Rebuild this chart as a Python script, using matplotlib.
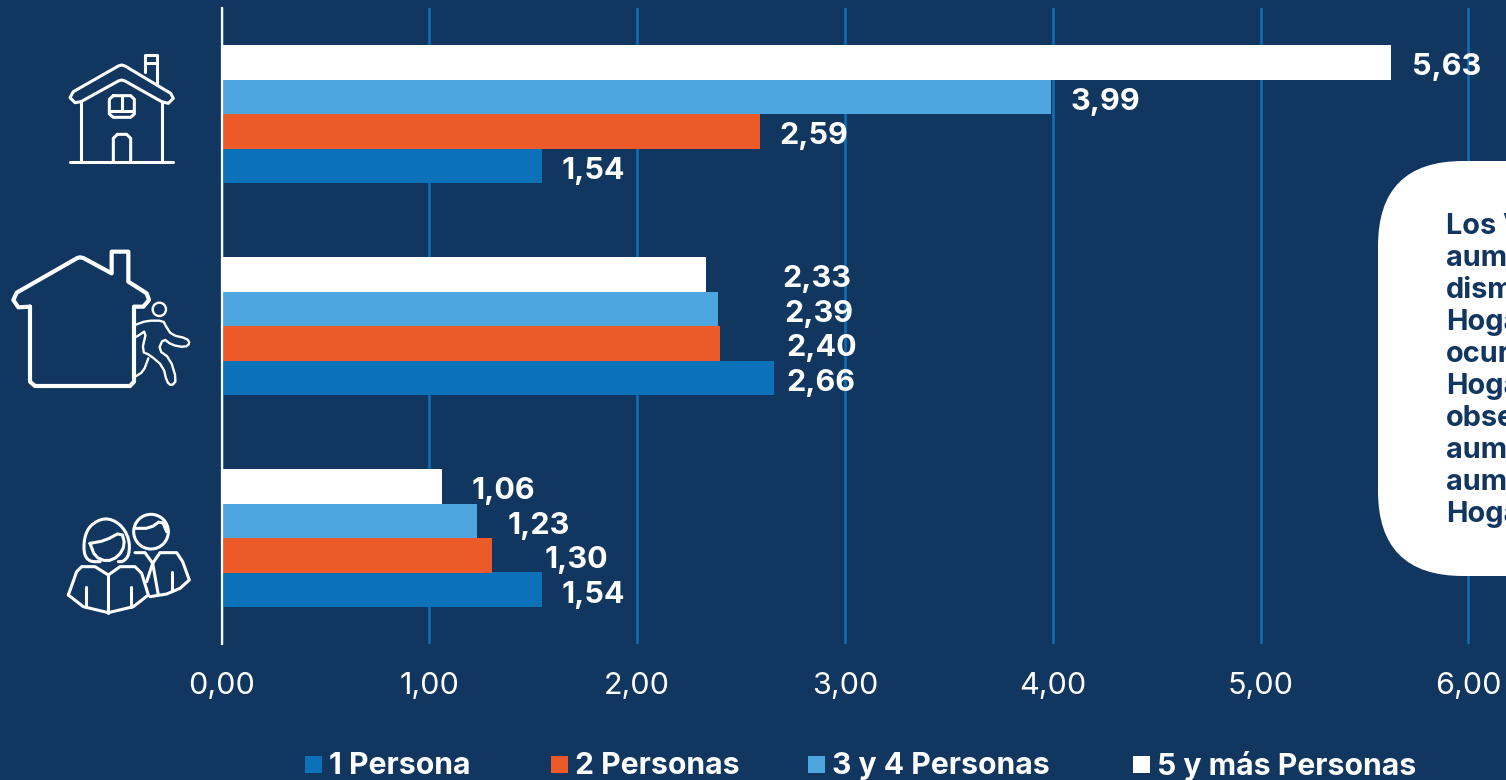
import matplotlib
matplotlib.use('Agg')
import matplotlib.pyplot as plt
from matplotlib.patches import FancyBboxPatch, Circle, Rectangle

plt.rcParams['font.family'] = ['Inter', 'DejaVu Sans']

BG = '#11365F'
series_names = ['1 Persona', '2 Personas', '3 y 4 Personas', '5 y más Personas']
colors = ['#0B71B9', '#EC5A29', '#4EA6E0', '#FFFFFF']
una = [1.54, 2.66, 1.54]
dos = [2.59, 2.40, 1.30]
tres_cuatro = [3.99, 2.39, 1.23]
cinco = [5.63, 2.33, 1.06]
xticks = [0, 1, 2, 3, 4, 5, 6]
xlabels = ['0,00', '1,00', '2,00', '3,00', '4,00', '5,00', '6,00']
box_lines = ['Los Valores', 'aumentan', 'disminuyen', 'Hogares', 'ocurre', 'Hogares',
             'observa', 'aumento', 'aumento', 'Hogares']

# label gap from the bar end, in px (hand placed in the original)
gaps = [[20, 20, 20, 21],
        [12, 66, 66, 77],
        [20, 53, 30, 30]]
legend_x = [305, 551, 808, 1133]

W, H = 1506, 780
fig = plt.figure(figsize=(W/100, H/100), dpi=100, facecolor=BG)
ax = fig.add_axes([221.5/W, (H-644)/H, (W-221.5)/W, 636/H], facecolor=BG)

h = 34.5/212
all_vals = [una, dos, tres_cuatro, cinco]
for s in range(4):
    pos = [g + (1.5-s)*h for g in range(3)]
    ax.barh(pos, all_vals[s], height=h, color=colors[s], zorder=3)
    for g in range(3):
        ax.annotate(('%.2f' % all_vals[s][g]).replace('.', ','), (all_vals[s][g], pos[g]),
                    xytext=(gaps[g][s]*0.72, -3.5), textcoords='offset points',
                    color='white', fontsize=22, fontweight='bold', va='center', ha='left', zorder=5)

ax.set_xlim(0, (W-221.5)/207.8)
ax.set_ylim(2.5, -0.5)
ax.set_yticks([])
ax.set_xticks(xticks)
ax.set_xticklabels(xlabels, color='white', fontsize=22)
ax.tick_params(axis='x', length=0, pad=20)
ax.grid(axis='x', color='#0B71B9', lw=1.8, zorder=1)
for sp in ['top', 'right', 'bottom']:
    ax.spines[sp].set_visible(False)
ax.spines['left'].set_color('white')
ax.spines['left'].set_linewidth(1.6)
ax.spines['left'].set_zorder(6)

# overlay in pixel coords for the callout, icons and legend
ov = fig.add_axes([0, 0, 1, 1], facecolor='none')
ov.set_xlim(0, W)
ov.set_ylim(H, 0)
ov.axis('off')
ov.add_patch(FancyBboxPatch((1378+85, 161+85), 300, 415-170, boxstyle='round,pad=85,rounding_size=85',
                            fc='white', ec='none', zorder=2))
for i in range(len(box_lines)):
    ov.text(1446, 226+i*32, box_lines[i], color=BG, fontsize=20.8, fontweight='bold',
            va='center', ha='left', zorder=3)

for i in range(4):
    ov.add_patch(Rectangle((legend_x[i], 756), 17, 17, fc=colors[i], ec='none'))
    ov.text(legend_x[i]+24, 766, series_names[i], color='white', fontsize=21.7, fontweight='bold',
            va='center', ha='left')


def smooth(pts, n=2):
    for k in range(n):
        new = [pts[0]]
        for a, b in zip(pts[:-1], pts[1:]):
            new.append((a[0]*.75+b[0]*.25, a[1]*.75+b[1]*.25))
            new.append((a[0]*.25+b[0]*.75, a[1]*.25+b[1]*.75))
        new.append(pts[-1])
        pts = new
    return pts


def draw(pts, org, lw=2.2, sm=0):
    if sm:
        pts = smooth(pts, sm)
    ov.plot([org[0]+p[0]/3 for p in pts], [org[1]+p[1]/3 for p in pts], color='white', lw=lw,
            solid_capstyle='round', solid_joinstyle='round')


def circ(c, r, org, lw=2.2):
    ov.add_patch(Circle((org[0]+c[0]/3, org[1]+c[1]/3), r/3, fc='none', ec='white', lw=lw))


# house
o = (0, 30)
draw([(210, 397), (520, 397)], o)
draw([(243, 215), (243, 397)], o)
draw([(485, 215), (485, 397)], o)
draw([(243, 215), (355, 153), (365, 150), (375, 153), (485, 215), (505, 220), (520, 205), (512, 190), (375, 108), (365, 105), (355, 108),
      (220, 185), (210, 203), (225, 218), (243, 215)], o)
draw([(435, 125), (435, 75), (472, 75), (472, 158)], o)
draw([(435, 100), (472, 100)], o)
draw([(340, 397), (340, 325), (352, 313), (380, 313), (392, 325), (392, 397)], o)
draw([(340, 197), (392, 197), (403, 208), (403, 252), (392, 262), (340, 262), (328, 252), (328, 208), (340, 197)], o)
draw([(328, 242), (403, 242)], o)
draw([(365, 197), (365, 242)], o)

# house with runner
draw([(90, 830), (90, 1055), (105, 1068), (390, 1068), (402, 1055), (402, 830), (430, 830), (447, 810), (440, 790),
      (385, 755), (385, 665), (335, 665), (335, 730), (250, 684), (240, 682), (232, 684), (50, 788), (40, 810), (55, 832), (90, 830)], o, lw=3)
circ((478, 838), 20, o, lw=1.7)
draw([(405, 885), (440, 872), (490, 872), (497, 888), (515, 915), (560, 925), (570, 940), (555, 952), (515, 945), (490, 925),
      (475, 960), (510, 985), (530, 1050), (515, 1068), (500, 1055), (490, 1010), (450, 975), (425, 965), (440, 900), (410, 920)],
     o, lw=1.7, sm=1)
draw([(445, 985), (430, 1025), (405, 1040)], o, lw=1.7, sm=1)

# people
o = (40, 500)
draw([(180, 185), (150, 185), (132, 165), (132, 115), (150, 75), (195, 52), (240, 70), (268, 115), (268, 165), (250, 185), (235, 185)], o, sm=2)
draw([(150, 130), (195, 122), (245, 95), (255, 135), (235, 170), (200, 185), (165, 170), (150, 130)], o, sm=1)
draw([(85, 285), (110, 215), (125, 200), (165, 200), (205, 225), (240, 200), (285, 200), (305, 220), (325, 285), (280, 320), (205, 338), (130, 320), (85, 285)], o)
draw([(137, 262), (137, 322)], o)
draw([(205, 225), (205, 338)], o)
draw([(272, 262), (272, 322)], o)
circ((333, 95), 52, o)
draw([(283, 85), (330, 85), (365, 60), (380, 95)], o, sm=1)
draw([(285, 158), (315, 158), (338, 190), (360, 158), (410, 158), (428, 185), (448, 240), (420, 265), (380, 282), (330, 290)], o)
draw([(397, 215), (397, 272)], o)
draw([(338, 190), (320, 245)], o)
draw([(338, 190), (355, 285)], o)

fig.savefig('out.png', dpi=100, facecolor=BG)
